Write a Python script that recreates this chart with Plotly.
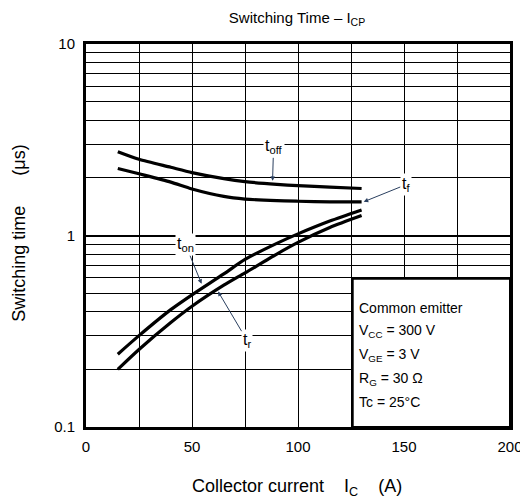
import math
import plotly.graph_objects as go

# ---- data ----
ic = [15, 25, 40, 50, 65, 75, 90, 100, 115, 130]
t_off = [2.74, 2.50, 2.27, 2.13, 1.98, 1.91, 1.85, 1.82, 1.79, 1.76]
t_f = [2.24, 2.10, 1.90, 1.75, 1.60, 1.55, 1.52, 1.51, 1.50, 1.50]
t_on = [0.24, 0.30, 0.41, 0.49, 0.63, 0.75, 0.91, 1.02, 1.19, 1.36]
t_r = [0.20, 0.254, 0.351, 0.427, 0.55, 0.638, 0.80, 0.92, 1.10, 1.27]

x_ticks = [0, 50, 100, 150, 200]
y_ticks = [0.1, 1, 10]
y_tick_text = ["0.1", "1", "10"]
cond_lines = ["Common emitter", "V<sub>CC</sub> = 300 V", "V<sub>GE</sub> = 3 V",
              "R<sub>G</sub> = 30 Ω", "Tc = 25°C"]

FONT = "Liberation Sans, Arial, sans-serif"
NB = "\u00a0"

fig = go.Figure()
for ys in (t_off, t_f, t_on, t_r):
    fig.add_trace(go.Scatter(x=ic, y=ys, mode="lines",
                             line=dict(color="black", width=3.2, shape="spline", smoothing=0.7),
                             showlegend=False, hoverinfo="skip"))

# page body has an 8px margin -> figure is 520x491 and offsets are compensated
fig.update_layout(
    width=520, height=491,
    margin=dict(l=78, r=18, t=36, b=72, autoexpand=False),
    paper_bgcolor="white", plot_bgcolor="white",
    font=dict(family=FONT, size=15, color="black"),
    title=dict(text="Switching Time – I<sub>CP</sub>", x=0.5558, xanchor="center",
               y=0.9796, yanchor="middle", font=dict(size=15, family=FONT)),
)

fig.update_xaxes(
    range=[0, 200], tickvals=x_ticks, ticks="", showgrid=True, automargin=False,
    gridcolor="black", gridwidth=1.3, ticklabelstandoff=4,
    minor=dict(dtick=25, tick0=0, showgrid=True, gridcolor="black", gridwidth=1.1),
    showline=True, linecolor="black", linewidth=3, mirror=True,
    zeroline=False, tickfont=dict(size=15),
)
fig.update_yaxes(
    type="log", range=[-1, 1], tickvals=y_ticks, ticktext=y_tick_text, ticks="",
    showgrid=True, gridcolor="black", gridwidth=1.5, automargin=False,
    ticklabelstandoff=5,
    minor=dict(tickvals=[v * m for m in (0.1, 1) for v in range(2, 10)],
               showgrid=True, gridcolor="black", gridwidth=1.1),
    showline=True, linecolor="black", linewidth=3, mirror=True,
    zeroline=False, tickfont=dict(size=15),
)

# axis titles
fig.add_annotation(x=0.497, xref="paper", y=-0.157, yref="paper",
                   text=f"Collector current{NB*4}I<sub>C</sub>{NB*4}(A)", showarrow=False,
                   xanchor="center", yanchor="middle", font=dict(size=18, family=FONT))
fig.add_annotation(x=-0.160, xref="paper", y=0.505, yref="paper",
                   text=f"Switching time{NB*6}(μs)", showarrow=False, textangle=-90,
                   xanchor="center", yanchor="middle", font=dict(size=18, family=FONT))

# condition box
fig.add_shape(type="rect", xref="x", yref="paper", x0=125.8, x1=200, y0=0, y1=0.387,
              fillcolor="white", line=dict(color="black", width=2), layer="above")
for i, t in enumerate(cond_lines):
    fig.add_annotation(x=127.8, xref="x", y=0.311 - i * 0.0615, yref="paper",
                       text=t, showarrow=False, xanchor="left", yanchor="middle",
                       font=dict(size=14, family=FONT))

ann_font = dict(size=16, family=FONT, color="black")
L = math.log10
# t_off
fig.add_annotation(x=88, y=L(1.93), text="t<sub>off</sub>", showarrow=True,
                   ax=1, ay=-34, arrowhead=2, arrowsize=0.9, arrowwidth=1,
                   bgcolor="white", font=ann_font)
# t_f
fig.add_annotation(x=131, y=L(1.50), text="t<sub>f</sub>", showarrow=True,
                   ax=42, ay=-17, arrowhead=2, arrowsize=0.9, arrowwidth=1,
                   bgcolor="white", font=ann_font)
# t_on
fig.add_annotation(x=54.5, y=L(0.56), text="t<sub>on</sub>", showarrow=True,
                   ax=-16, ay=-39, arrowhead=2, arrowsize=0.9, arrowwidth=1,
                   bgcolor="white", font=ann_font)
# t_r
fig.add_annotation(x=62.3, y=L(0.51), text="t<sub>r</sub>", showarrow=True,
                   ax=29, ay=49, arrowhead=2, arrowsize=0.9, arrowwidth=1,
                   bgcolor="white", font=ann_font)

fig.write_html("out.html")
